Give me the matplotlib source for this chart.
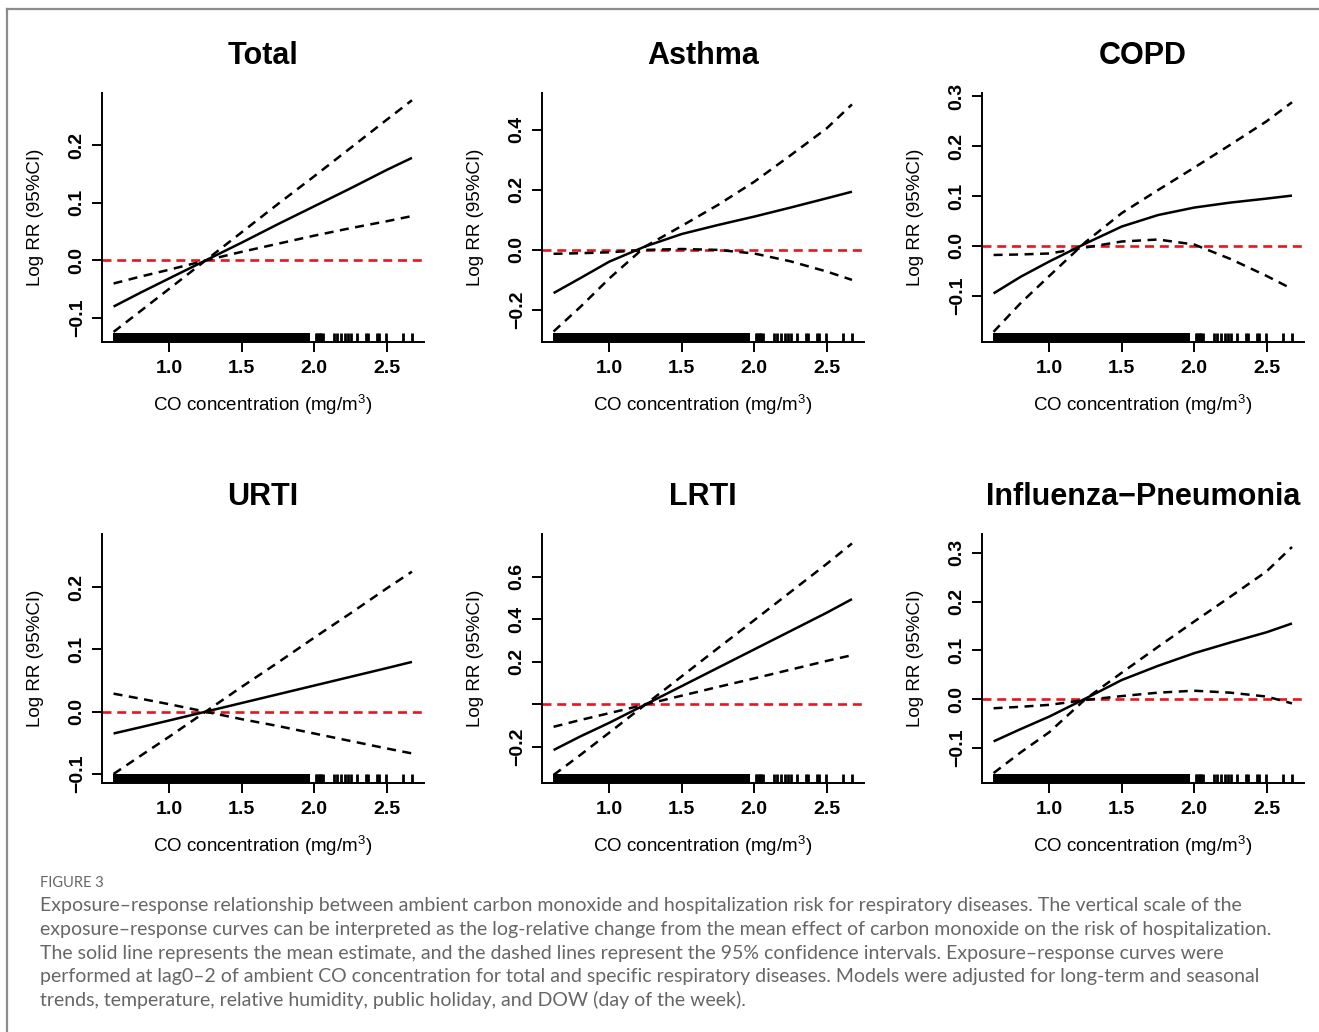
import matplotlib
matplotlib.use("Agg")
import matplotlib.pyplot as plt
from matplotlib.lines import Line2D

plt.rcParams['font.family'] = ['Liberation Sans', 'DejaVu Sans']
plt.rcParams['mathtext.fontset'] = 'custom'
plt.rcParams['mathtext.rm'] = 'Liberation Sans'
plt.rcParams['mathtext.it'] = 'Liberation Sans:italic'

co_grid = [0.615, 0.8, 1.0, 1.25, 1.5, 1.75, 2.0, 2.25, 2.5, 2.675]

titles = ['Total', 'Asthma', 'COPD', 'URTI', 'LRTI', 'Influenza\u2212Pneumonia']

# mean estimate (log RR)
est_total = [-0.080, -0.056, -0.031, 0.0, 0.031, 0.063, 0.094, 0.125, 0.157, 0.178]
est_asthma = [-0.144, -0.094, -0.039, 0.012, 0.053, 0.083, 0.111, 0.141, 0.172, 0.194]
est_copd = [-0.095, -0.062, -0.031, 0.005, 0.039, 0.062, 0.077, 0.087, 0.095, 0.101]
est_urti = [-0.035, -0.025, -0.014, 0.0, 0.014, 0.028, 0.042, 0.056, 0.070, 0.080]
est_lrti = [-0.214, -0.150, -0.086, 0.0, 0.086, 0.172, 0.258, 0.344, 0.430, 0.494]
est_flu = [-0.087, -0.062, -0.036, 0.001, 0.039, 0.068, 0.094, 0.116, 0.137, 0.155]

# confidence band, curve ending higher on the right
hi_total = [-0.124, -0.088, -0.049, 0.0, 0.049, 0.098, 0.146, 0.195, 0.244, 0.278]
hi_asthma = [-0.272, -0.190, -0.095, 0.012, 0.080, 0.150, 0.227, 0.315, 0.405, 0.485]
hi_copd = [-0.172, -0.115, -0.060, 0.008, 0.066, 0.112, 0.157, 0.203, 0.250, 0.288]
hi_urti = [-0.100, -0.071, -0.040, 0.0, 0.040, 0.079, 0.119, 0.158, 0.198, 0.225]
hi_lrti = [-0.331, -0.237, -0.132, 0.0, 0.132, 0.264, 0.395, 0.527, 0.659, 0.755]
hi_flu = [-0.152, -0.110, -0.068, 0.0, 0.054, 0.107, 0.159, 0.210, 0.262, 0.312]

# confidence band, curve ending lower on the right
lo_total = [-0.040, -0.028, -0.016, 0.0, 0.015, 0.029, 0.043, 0.056, 0.068, 0.077]
lo_asthma = [-0.013, -0.011, -0.008, 0.0, 0.003, 0.0, -0.012, -0.038, -0.072, -0.100]
lo_copd = [-0.018, -0.017, -0.015, -0.003, 0.009, 0.013, 0.003, -0.026, -0.060, -0.086]
lo_urti = [0.029, 0.021, 0.012, 0.0, -0.012, -0.023, -0.035, -0.047, -0.059, -0.067]
lo_lrti = [-0.105, -0.073, -0.041, 0.0, 0.041, 0.082, 0.122, 0.163, 0.204, 0.231]
lo_flu = [-0.019, -0.016, -0.012, -0.002, 0.006, 0.013, 0.017, 0.013, 0.005, -0.009]

y_ticks = [
    [-0.1, 0.0, 0.1, 0.2],
    [-0.2, 0.0, 0.2, 0.4],
    [-0.1, 0.0, 0.1, 0.2, 0.3],
    [-0.1, 0.0, 0.1, 0.2],
    [-0.2, 0.0, 0.2, 0.4, 0.6],
    [-0.1, 0.0, 0.1, 0.2, 0.3],
]
y_limits = [(-0.142, 0.290), (-0.308, 0.522), (-0.193, 0.306),
            (-0.115, 0.285), (-0.370, 0.798), (-0.173, 0.338)]
x_ticks = [1.0, 1.5, 2.0, 2.5]

# rug of observed CO values: saturated part, then the sparse high values
rug_dense = (0.61, 1.972)
rug_sparse = [2.012, 2.02, 2.03, 2.04, 2.05, 2.058, 2.138, 2.159, 2.188, 2.211,
              2.234, 2.257, 2.296, 2.361, 2.372, 2.434, 2.448, 2.498, 2.613, 2.675]

caption_head = 'FIGURE 3'
caption_lines = [
    'Exposure\u2013response relationship between ambient carbon monoxide and hospitalization risk for respiratory diseases. The vertical scale of the',
    'exposure\u2013response curves can be interpreted as the log-relative change from the mean effect of carbon monoxide on the risk of hospitalization.',
    'The solid line represents the mean estimate, and the dashed lines represent the 95% confidence intervals. Exposure\u2013response curves were',
    'performed at lag0\u20132 of ambient CO concentration for total and specific respiratory diseases. Models were adjusted for long-term and seasonal',
    'trends, temperature, relative humidity, public holiday, and DOW (day of the week).',
]

W, H = 1319, 1032


def draw_panel(ax, title, est, hi, lo, yticks, ylim):
    ax.set_xlim(0.533, 2.758)
    ax.set_ylim(*ylim)
    ax.axhline(0, color='#e8141b', lw=1.9, dashes=(3.4, 2.2), zorder=2)
    ax.plot(co_grid, est, color='black', lw=1.8, solid_capstyle='butt', zorder=3)
    for band in (hi, lo):
        ax.plot(co_grid, band, color='black', lw=1.8, dashes=(3.6, 2.6), zorder=3)

    # rug along the bottom
    ax.axvspan(*rug_dense, ymin=0, ymax=0.037, color='black', lw=0, zorder=4)
    ax.vlines(rug_sparse, 0, 0.037, transform=ax.get_xaxis_transform(),
              color='black', lw=2.0, zorder=4)

    for side in ('top', 'right'):
        ax.spines[side].set_visible(False)
    for side in ('left', 'bottom'):
        ax.spines[side].set_linewidth(1.4)

    ax.set_xticks(x_ticks)
    ax.set_xticklabels([f'{v:.1f}' for v in x_ticks])
    ax.set_yticks(yticks)
    labels = [f'{v:.1f}'.replace('-', '\u2212') for v in yticks]
    if title == 'LRTI':
        labels = ['' if v == 0 else s for v, s in zip(yticks, labels)]
    ax.set_yticklabels(labels)
    ax.tick_params(length=7.5, width=1.4, labelsize=14)
    ax.tick_params(axis='x', pad=5)
    ax.tick_params(axis='y', pad=4, labelrotation=90)
    for lab in ax.get_xticklabels() + ax.get_yticklabels():
        lab.set_fontweight('bold')
    for lab in ax.get_yticklabels():
        lab.set_va('center')

    ax.set_xlabel('CO concentration (mg/m$^3$)', fontsize=13.5)
    ax.set_ylabel('Log RR (95%CI)', fontsize=13.5)
    ax.xaxis.set_label_coords(0.5, -0.205)
    ax.yaxis.set_label_coords(-0.18, 0.5)
    ax.set_title(title, fontsize=22, fontweight='bold', pad=21)


def main() -> None:
    fig = plt.figure(figsize=(W / 100, H / 100), dpi=100)

    ests = [est_total, est_asthma, est_copd, est_urti, est_lrti, est_flu]
    his = [hi_total, hi_asthma, hi_copd, hi_urti, hi_lrti, hi_flu]
    los = [lo_total, lo_asthma, lo_copd, lo_urti, lo_lrti, lo_flu]

    col_left = [101.7, 541.7, 981.7]
    row_bottom = [342.3, 783.3]
    aw, ah = 322.3, 249.0
    for i in range(6):
        r, c = divmod(i, 3)
        ax = fig.add_axes([col_left[c] / W, 1 - row_bottom[r] / H, aw / W, ah / H])
        draw_panel(ax, titles[i], ests[i], his[i], los[i], y_ticks[i], y_limits[i])

    # card border (top and left only)
    border = '#8c8c8c'
    fig.add_artist(Line2D([7 / W, 1], [1 - 9 / H, 1 - 9 / H], color=border, lw=1.6))
    fig.add_artist(Line2D([7 / W, 7 / W], [0, 1 - 9 / H], color=border, lw=1.6))

    # caption
    fig.text(40 / W, 1 - 883 / H, caption_head, fontsize=10.5, color='#666666',
             family=['Lato', 'DejaVu Sans'], va='center', ha='left')
    for k, line in enumerate(caption_lines):
        fig.text(40 / W, 1 - (906 + 23.5 * k) / H, line, fontsize=14.05, color='#666666',
                 family=['Lato', 'DejaVu Sans'], va='center', ha='left')

    fig.savefig('out.png', dpi=100)


if __name__ == '__main__':
    main()
